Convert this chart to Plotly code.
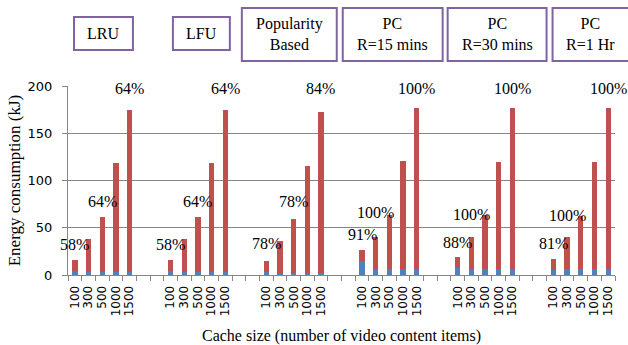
import plotly.graph_objects as go

# ---- data ----
groups = ["LRU", "LFU", "Popularity Based", "PC R=15 mins", "PC R=30 mins", "PC R=1 Hr"]
group_titles = ["LRU", "LFU", "Popularity<br>Based", "PC<br>R=15 mins", "PC<br>R=30 mins", "PC<br>R=1 Hr"]
cache_sizes = ["100", "300", "500", "1000", "1500"]

blue_vals = [
    [4.6, 3.5, 3.5, 3.5, 3.5],
    [4.6, 3.5, 3.5, 3.5, 3.5],
    [3.5, 2.5, 2.0, 2.0, 2.0],
    [15.0, 6.5, 6.5, 6.5, 6.5],
    [7.5, 6.0, 6.0, 6.0, 6.0],
    [5.5, 6.0, 6.0, 6.0, 6.0],
]
red_vals = [
    [11.4, 34.5, 57.5, 114.5, 171.5],
    [11.4, 34.5, 57.5, 114.5, 171.5],
    [11.5, 33.5, 57.0, 113.5, 170.0],
    [11.5, 34.0, 56.5, 114.0, 170.5],
    [11.5, 34.0, 57.0, 114.0, 170.5],
    [11.5, 34.0, 56.5, 114.0, 170.5],
]
# percentage labels: (text, cache-size index, y value)
pct_labels = [
    [("58%", 0, 32), ("64%", 2, 78), ("64%", 4, 197)],
    [("58%", 0, 32), ("64%", 2, 78), ("64%", 4, 197)],
    [("78%", 0, 33), ("78%", 2, 78), ("84%", 4, 197)],
    [("91%", 0, 42.5), ("100%", 1, 66), ("100%", 4, 197)],
    [("88%", 0, 34), ("100%", 1, 64.5), ("100%", 4, 197)],
    [("81%", 0, 33), ("100%", 1, 63), ("100%", 4, 197)],
]

# ---- categorical x with two empty slots between groups ----
cats, ticktext = [], []
xb, yb, xr, yr = [], [], [], []
for gi, g in enumerate(groups):
    for si, s in enumerate(cache_sizes):
        c = f"{g}|{s}"
        cats.append(c); ticktext.append(s)
        xb.append(c); yb.append(blue_vals[gi][si])
        xr.append(c); yr.append(red_vals[gi][si])
    if gi < len(groups) - 1:
        for k in range(2):
            c = f"gap{gi}_{k}"
            cats.append(c); ticktext.append("")

fig = go.Figure()
fig.add_trace(go.Bar(x=xb, y=yb, marker=dict(color="#4F81BD", line=dict(width=0)), name="blue"))
fig.add_trace(go.Bar(x=xr, y=yr, marker=dict(color="#C0504D", line=dict(width=0)), name="red"))

serif = "Liberation Serif"
annotations = []
for gi, g in enumerate(groups):
    for txt, si, yv in pct_labels[gi]:
        annotations.append(dict(x=cats.index(f"{g}|{cache_sizes[si]}"), y=yv, xref="x", yref="y",
                                text=txt, showarrow=False, font=dict(family=serif, size=16, color="black")))

# group title boxes (pixel layout -> paper coords)
W, H = 628, 345
L, R, T, B = 68, 12.5, 86, 70
pw, ph = W - L - R, H - T - B
def px(x): return (x - L) / pw
def py(y): return (H - B - y) / ph
boxes = [(74, 17, 133, 50), (173, 17, 230, 50), (242, 8, 337, 61),
         (343, 8, 443, 61), (448, 8, 547, 61), (553, 8, 632, 61)]
shapes = []
for (x0, y0, x1, y1), t in zip(boxes, group_titles):
    shapes.append(dict(type="rect", xref="paper", yref="paper", x0=px(x0), x1=px(x1), y0=py(y1), y1=py(y0),
                       line=dict(color="#8064A2", width=2), fillcolor="white"))
    annotations.append(dict(x=px((x0 + min(x1, 628)) / 2), y=py((y0 + y1) / 2),
                            xref="paper", yref="paper", text=t, showarrow=False,
                            font=dict(family=serif, size=16, color="black"), yanchor="middle", xanchor="center"))

fig.update_layout(
    width=W, height=H, barmode="stack", bargap=0.61, showlegend=False,
    margin=dict(l=L, r=R, t=T, b=B, autoexpand=False),
    paper_bgcolor="white", plot_bgcolor="white",
    shapes=shapes, annotations=annotations,
    xaxis=dict(type="category", categoryorder="array", categoryarray=cats,
               tickmode="array", tickvals=cats, ticktext=ticktext, tickson="boundaries",
               ticks="outside", ticklen=5, tickcolor="#868686", tickangle=-90, ticklabelstandoff=5,
               tickfont=dict(family="DejaVu Sans", size=12, color="black"),
               showline=True, linecolor="#868686", linewidth=1, showgrid=False,
               range=[-0.5, len(cats) - 0.5], automargin=False,
               title=dict(text="Cache size (number of video content items)", standoff=18,
                          font=dict(family=serif, size=16, color="black"))),
    yaxis=dict(range=[0, 200], tickvals=[0, 50, 100, 150, 200], ticks="outside", ticklen=5,
               tickcolor="#868686", showgrid=True, gridcolor="#868686", gridwidth=1,
               showline=True, linecolor="#868686", linewidth=1, zeroline=False, ticklabelstandoff=7,
               tickfont=dict(family="DejaVu Sans", size=13, color="black"), automargin=False,
               title=dict(text="Energy consumption (kJ)", standoff=2,
                          font=dict(family=serif, size=17, color="black"))),
)

fig.write_html("out.html")
